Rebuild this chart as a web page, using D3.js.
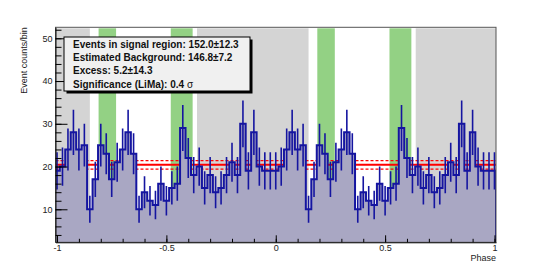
<!DOCTYPE html>
<html>
<head>
<meta charset="utf-8">
<script src="https://cdn.jsdelivr.net/npm/d3@7"></script>
<style>
  body { margin: 0; background: #fff; }
  svg { display: block; font-family: "Liberation Sans", Arial, Helvetica, sans-serif; }
</style>
</head>
<body>
<div id="chart"></div>
<script>
// counts per phase bin for one period (bin centres 0, 0.025, ... 0.975); the plot repeats it over -1..1
let periodCounts = [19, 20, 24, 28, 24, 25, 10, 17, 25, 23,
                    17, 21, 24, 28, 23, 10, 14, 12, 11, 16,
                    12, 15, 16, 29, 22, 18, 20, 15, 18, 14,
                    15, 18, 21, 18, 30, 19, 28, 20, 19, 19];
let binWidth = 0.025;
let firstCentre = -1, nBins = 81;

// off (background) and on (signal) phase ranges
let offRegions = [[-1.007, -0.85], [-0.36, 0.15], [0.64, 1.007]];
let onRegions = [[-0.81, -0.73], [-0.48, -0.38], [0.19, 0.27], [0.52, 0.62]];

// background level per bin and its error
let bkgLevel = 20.4, bkgErr = 1.0;

let xTicks = [-1, -0.5, 0, 0.5, 1];
let xMinor = d3.range(-10, 11).map(d => d / 10);
let yTicks = [10, 20, 30, 40, 50];
let yMinor = d3.range(4, 54, 2);

let infoLines = ["Events in signal region: 152.0\u00b112.3",
                 "Estimated Background: 146.8\u00b17.2",
                 "Excess: 5.2\u00b114.3",
                 "Significance (LiMa): 0.4 "];

let width = 552, height = 269;
let frame = {left: 55.5, right: 496, top: 27.3, bottom: 242.3};

let svg = d3.select("#chart").append("svg")
    .attr("width", width)
    .attr("height", height);

let x = d3.scaleLinear().domain([-1.007, 1.007]).range([frame.left, frame.right]);
let y = d3.scaleLinear().domain([2.28, 52.57]).range([frame.bottom, frame.top]);

svg.append("clipPath").attr("id", "frameClip")
    .append("rect")
    .attr("x", frame.left).attr("y", frame.top)
    .attr("width", frame.right - frame.left).attr("height", frame.bottom - frame.top);

let plot = svg.append("g").attr("clip-path", "url(#frameClip)");

// shaded phase regions
plot.selectAll(".off").data(offRegions).enter().append("rect")
    .attr("x", d => x(d[0]))
    .attr("width", d => x(d[1]) - x(d[0]))
    .attr("y", frame.top + 1)
    .attr("height", frame.bottom - frame.top)
    .attr("fill", "#d4d4d4");

plot.selectAll(".on").data(onRegions).enter().append("rect")
    .attr("x", d => x(d[0]))
    .attr("width", d => x(d[1]) - x(d[0]))
    .attr("y", frame.top + 1)
    .attr("height", frame.bottom - frame.top)
    .attr("fill", "#93d184");

// background level lines
plot.append("line")
    .attr("x1", frame.left).attr("x2", frame.right)
    .attr("y1", y(bkgLevel)).attr("y2", y(bkgLevel))
    .style("stroke", "#ff0000").style("stroke-width", 2);

[bkgLevel + bkgErr, bkgLevel - bkgErr].forEach(function(v){
    plot.append("line")
        .attr("x1", frame.left).attr("x2", frame.right)
        .attr("y1", y(v)).attr("y2", y(v))
        .style("stroke", "#ff0000").style("stroke-width", 1.3)
        .style("stroke-dasharray", "3,2");
});

// histogram bins
let bins = d3.range(nBins).map(function(k){
    let c = firstCentre + k * binWidth;
    return {
        centre: c,
        lo: Math.max(c - binWidth / 2, x.domain()[0]),
        hi: Math.min(c + binWidth / 2, x.domain()[1]),
        count: periodCounts[k % periodCounts.length]
    };
});

let outline = "M" + x(bins[0].lo) + "," + y(bins[0].count);
bins.forEach(function(b, i){
    if (i > 0) outline += "V" + y(b.count);
    outline += "H" + x(b.hi);
});
let fillPath = outline + "V" + frame.bottom + "H" + x(bins[0].lo) + "Z";
outline += "V" + frame.bottom;

plot.append("path")
    .attr("d", fillPath)
    .attr("fill", "#a9a7c3");

plot.append("path")
    .attr("d", outline)
    .attr("fill", "none")
    .style("stroke", "#1515a0")
    .style("stroke-width", 2);

plot.selectAll(".err").data(bins).enter().append("line")
    .attr("x1", d => x(d.centre)).attr("x2", d => x(d.centre))
    .attr("y1", d => y(d.count - Math.sqrt(d.count)))
    .attr("y2", d => y(d.count + Math.sqrt(d.count)))
    .style("stroke", "#1515a0")
    .style("stroke-width", 1.6);

// frame
svg.append("rect")
    .attr("x", frame.left).attr("y", frame.top)
    .attr("width", frame.right - frame.left).attr("height", frame.bottom - frame.top)
    .attr("fill", "none")
    .style("stroke", "#555").style("stroke-width", 1);

// axes, ticks inside the frame
svg.append("g")
    .attr("transform", "translate(0," + frame.bottom + ")")
    .call(d3.axisBottom(x).tickValues(xTicks).tickSize(-7).tickSizeOuter(0)
        .tickPadding(2.5).tickFormat(d => String(d)));
svg.append("g")
    .attr("transform", "translate(0," + frame.bottom + ")")
    .call(d3.axisBottom(x).tickValues(xMinor).tickSize(-3.5).tickSizeOuter(0).tickFormat(""))
    .select(".domain").remove();

svg.append("g")
    .attr("transform", "translate(" + frame.left + ",0)")
    .call(d3.axisLeft(y).tickValues(yTicks).tickSize(-12).tickSizeOuter(0).tickPadding(3));
svg.append("g")
    .attr("transform", "translate(" + frame.left + ",0)")
    .call(d3.axisLeft(y).tickValues(yMinor).tickSize(-6).tickSizeOuter(0).tickFormat(""))
    .select(".domain").remove();

svg.selectAll(".tick text")
    .style("font-size", "9px")
    .style("font-family", "'Liberation Sans', Arial, sans-serif")
    .attr("fill", "#222");
svg.selectAll(".domain").style("stroke", "#111");

// axis titles
svg.append("text")
    .attr("x", frame.right).attr("y", 261)
    .attr("text-anchor", "end")
    .style("font-size", "9px")
    .attr("fill", "#222")
    .text("Phase");

svg.append("text")
    .attr("transform", "translate(27," + frame.top + ") rotate(-90)")
    .attr("text-anchor", "end")
    .style("font-size", "9px")
    .attr("fill", "#222")
    .text("Event counts/bin");

// info box with shadow
let box = {x: 64, y: 37, w: 186, h: 54};
svg.append("rect")
    .attr("x", box.x + 2.5).attr("y", box.y + 2.5)
    .attr("width", box.w).attr("height", box.h)
    .attr("fill", "#000");
svg.append("rect")
    .attr("x", box.x).attr("y", box.y)
    .attr("width", box.w).attr("height", box.h)
    .attr("fill", "#f0f0f0")
    .style("stroke", "#000").style("stroke-width", 1);

let info = svg.selectAll(".info").data(infoLines).enter().append("text")
    .attr("x", 73)
    .attr("y", (d, i) => 47.5 + i * 13.35)
    .style("font-size", "10px")
    .style("font-weight", "bold")
    .attr("fill", "#111")
    .text(d => d);

info.filter((d, i) => i === 3).append("tspan")
    .style("font-weight", "normal")
    .text("\u03c3");
</script>
</body>
</html>
